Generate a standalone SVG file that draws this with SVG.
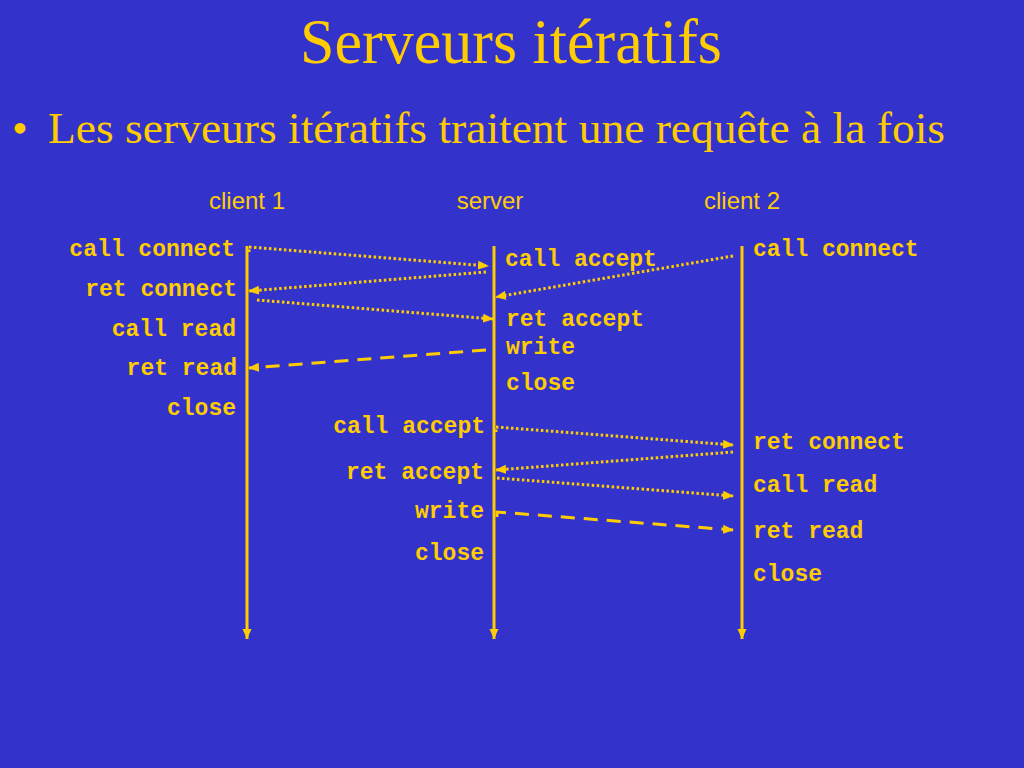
<svg xmlns="http://www.w3.org/2000/svg" width="1024" height="768" viewBox="0 0 1024 768">
<defs>
<marker id="ah" markerWidth="11" markerHeight="10" refX="10" refY="5" orient="auto" markerUnits="userSpaceOnUse">
<path d="M0,0.5 L11,5 L0,9.5 Z" fill="#FFCC00"/>
</marker>
<marker id="ahs" markerWidth="10" markerHeight="10" refX="10" refY="5" orient="auto" markerUnits="userSpaceOnUse">
<path d="M0,0.5 L10,5 L0,9.5 Z" fill="#FFCC00"/>
</marker>
</defs>
<style>
.title{font-family:"Liberation Serif",serif;fill:#FFCC00}
.hdr{font-family:"Liberation Sans",sans-serif;font-size:24px;fill:#FFCC00}
.m{font-family:"Liberation Mono",monospace;font-weight:bold;font-size:23px;fill:#FFCC00}
.r{text-anchor:end}
.life{stroke:#FFCC00;stroke-width:3;fill:none}
.dot{stroke:#FFCC00;stroke-width:3;fill:none;stroke-dasharray:2.5 2.5}
.dash{stroke:#FFCC00;stroke-width:3;fill:none;stroke-dasharray:14 9}
</style>
<rect width="1024" height="768" fill="#3333CC"/>
<text class="title" x="300" y="63" font-size="64" textLength="422" lengthAdjust="spacingAndGlyphs">Serveurs itératifs</text>
<text class="title" x="12" y="143" font-size="45">•</text>
<text class="title" x="48" y="143" font-size="45" textLength="897" lengthAdjust="spacingAndGlyphs">Les serveurs itératifs traitent une requête à la fois</text>

<g id="client1">
<text class="hdr" x="247" y="209" text-anchor="middle">client 1</text>
<line class="life" x1="247" y1="246" x2="247" y2="639" marker-end="url(#ahs)"/>
<text class="m r" x="235" y="256">call connect</text>
<text class="m r" x="237" y="296">ret connect</text>
<text class="m r" x="236" y="336">call read</text>
<text class="m r" x="237" y="375">ret read</text>
<text class="m r" x="236" y="415">close</text>
</g>
<g id="server">
<text class="hdr" x="490" y="209" text-anchor="middle">server</text>
<line class="life" x1="494" y1="246" x2="494" y2="639" marker-end="url(#ahs)"/>
<text class="m" x="505" y="266">call accept</text>
<text class="m" x="506" y="326">ret accept</text>
<text class="m" x="506" y="354">write</text>
<text class="m" x="506" y="390">close</text>
<text class="m r" x="485" y="433">call accept</text>
<text class="m r" x="484" y="479">ret accept</text>
<text class="m r" x="484" y="518">write</text>
<text class="m r" x="484" y="560">close</text>
</g>
<g id="client2">
<text class="hdr" x="742" y="209" text-anchor="middle">client 2</text>
<line class="life" x1="742" y1="246" x2="742" y2="639" marker-end="url(#ahs)"/>
<text class="m" x="753" y="256">call connect</text>
<text class="m" x="753" y="449">ret connect</text>
<text class="m" x="753" y="492">call read</text>
<text class="m" x="753" y="538">ret read</text>
<text class="m" x="753" y="581">close</text>
</g>

<g id="connectors">
<path class="dot" d="M249,252 L249,247 L488,266" marker-end="url(#ah)"/>
<line class="dot" x1="486" y1="272" x2="249" y2="291" marker-end="url(#ah)"/>
<line class="dot" x1="257" y1="300" x2="493" y2="319" marker-end="url(#ah)"/>
<line class="dash" x1="486" y1="350" x2="249" y2="368" marker-end="url(#ah)"/>
<line class="dot" x1="733" y1="256" x2="496" y2="297" marker-end="url(#ah)"/>
<path class="dot" d="M496,432 L496,427 L733,445" marker-end="url(#ah)"/>
<line class="dot" x1="733" y1="452" x2="496" y2="470" marker-end="url(#ah)"/>
<line class="dot" x1="497" y1="478" x2="733" y2="496" marker-end="url(#ah)"/>
<path class="dash" d="M497,517 L497,512 L733,530" marker-end="url(#ah)"/>
</g>
</svg>
